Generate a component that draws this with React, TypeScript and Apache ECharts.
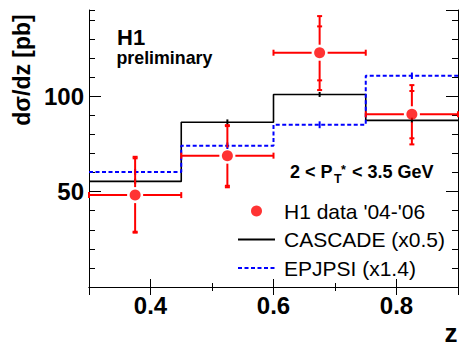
import React, { useEffect, useRef } from 'react';
import * as echarts from 'echarts';

// ---- data ----
const binEdges = [0.3, 0.45, 0.6, 0.75, 0.9];
const zCenters = [0.375, 0.525, 0.675, 0.825];
const h1Values = [48.2, 68.9, 122.9, 90.6];
const h1StatLow = [29.0, 53.1, 108.4, 78.0];
const h1StatHigh = [67.5, 84.4, 136.7, 102.8];
const h1TotLow = [28.5, 52.3, 103.3, 74.8];
const h1TotHigh = [68.3, 84.9, 142.1, 105.9];
const cascadeValues = [55.4, 86.4, 101.0, 87.4];
const cascadeErr = [1.4, 1.5, 1.3, 1.4];
const epjpsiValues = [60.3, 74.1, 85.1, 110.8];
const epjpsiErr = [1.6, 1.7, 1.8, 1.7];
const xTickLabels = ['0.4', '0.6', '0.8'];
const yTickLabels = ['50', '100'];
const seriesNames = ["H1 data '04-'06", 'CASCADE (x0.5)', 'EPJPSI (x1.4)'];

const FONT = "'Liberation Sans', Arial, Helvetica, sans-serif";

function stepData(values: number[]) {
  return binEdges.map((e, i) => [e, values[Math.min(i, values.length - 1)]]);
}

function modelErrData(values: number[], errs: number[]) {
  return zCenters.map((z, i) => [z, values[i] - errs[i], values[i] + errs[i]]);
}

function makeModelErrRender(color: string) {
  return (params: any, api: any) => {
    const lo = api.coord([api.value(0), api.value(1)]);
    const hi = api.coord([api.value(0), api.value(2)]);
    return {
      type: 'line',
      shape: { x1: lo[0], y1: lo[1], x2: hi[0], y2: hi[1] },
      style: { stroke: color, lineWidth: 2 },
    };
  };
}

const h1ErrData = zCenters.map((z, i) => [
  z,
  h1Values[i],
  binEdges[i],
  binEdges[i + 1],
  h1StatLow[i],
  h1StatHigh[i],
  h1TotLow[i],
  h1TotHigh[i],
]);

function h1ErrRender(params: any, api: any) {
  const x = api.value(0);
  const y = api.value(1);
  const c = api.coord([x, y]);
  const left = api.coord([api.value(2), y])[0];
  const right = api.coord([api.value(3), y])[0];
  const sLo = api.coord([x, api.value(4)])[1];
  const sHi = api.coord([x, api.value(5)])[1];
  const tLo = api.coord([x, api.value(6)])[1];
  const tHi = api.coord([x, api.value(7)])[1];
  const gap = 8;
  const capH = 3;
  const capV = 2.5;
  const st = { stroke: '#ff0000', lineWidth: 2 };
  const ln = (x1: number, y1: number, x2: number, y2: number) => ({
    type: 'line',
    shape: { x1, y1, x2, y2 },
    style: st,
  });
  return {
    type: 'group',
    children: [
      ln(c[0], c[1] - gap, c[0], tHi),
      ln(c[0], c[1] + gap, c[0], tLo),
      ln(left, c[1], c[0] - gap, c[1]),
      ln(c[0] + gap, c[1], right, c[1]),
      ln(left, c[1] - capH, left, c[1] + capH),
      ln(right, c[1] - capH, right, c[1] + capH),
      ln(c[0] - capV, sHi, c[0] + capV, sHi),
      ln(c[0] - capV, sLo, c[0] + capV, sLo),
      ln(c[0] - capV, tHi, c[0] + capV, tHi),
      ln(c[0] - capV, tLo, c[0] + capV, tLo),
    ],
  };
}

const fmt1 = (v: number) => String(Number(v.toFixed(1)));

export default function App() {
  const ref = useRef<HTMLDivElement>(null);

  useEffect(() => {
    if (!ref.current) return;
    const chart = echarts.init(ref.current, undefined, { renderer: 'svg' });

    const axisLine = { show: true, lineStyle: { color: '#000', width: 1 } };
    const noLine = { show: false };
    const tick = (len: number) => ({ show: true, inside: true, length: len, lineStyle: { color: '#000', width: 1 } });
    const xMajorBase = { type: 'value', min: 0.3, max: 0.9, splitNumber: 3, splitLine: { show: false } };
    const xMinorBase = { type: 'value', min: 0.3, max: 0.9, interval: 0.1, splitLine: { show: false }, axisLabel: { show: false } };
    const yMajorBase = { type: 'value', min: 0, max: 145.3, interval: 50, splitLine: { show: false } };
    const yMinorBase = { type: 'value', min: 0, max: 145.3, interval: 10, splitLine: { show: false }, axisLabel: { show: false } };

    const option: any = {
      animation: false,
      backgroundColor: '#ffffff',
      grid: { left: 89, top: 10, width: 369, height: 277 },
      xAxis: [
        {
          ...xMajorBase,
          position: 'bottom',
          axisLine,
          axisTick: tick(8),
          axisLabel: {
            show: true,
            margin: 6,
            fontSize: 24,
            fontWeight: 'bold',
            color: '#000',
            fontFamily: FONT,
            showMinLabel: false,
            showMaxLabel: false,
            formatter: (v: number) => (xTickLabels.includes(fmt1(v)) ? fmt1(v) : ''),
          },
        },
        { ...xMinorBase, position: 'bottom', axisLine: noLine, axisTick: tick(4) },
        { ...xMajorBase, position: 'top', axisLine, axisTick: tick(8), axisLabel: { show: false } },
        { ...xMinorBase, position: 'top', axisLine: noLine, axisTick: tick(4) },
      ],
      yAxis: [
        {
          ...yMajorBase,
          position: 'left',
          axisLine,
          axisTick: tick(12),
          axisLabel: {
            show: true,
            margin: 5,
            fontSize: 24,
            fontWeight: 'bold',
            color: '#000',
            fontFamily: FONT,
            padding: [7, 0, 0, 0],
            showMaxLabel: false,
            formatter: (v: number) => (yTickLabels.includes(String(v)) ? String(v) : ''),
          },
        },
        { ...yMinorBase, position: 'left', axisLine: noLine, axisTick: tick(6) },
        { ...yMajorBase, position: 'right', axisLine, axisTick: tick(12), axisLabel: { show: false } },
        { ...yMinorBase, position: 'right', axisLine: noLine, axisTick: tick(6) },
      ],
      legend: {
        orient: 'vertical',
        left: 237,
        top: 200.5,
        padding: 0,
        itemWidth: 37,
        itemHeight: 11,
        itemGap: 7.5,
        selectedMode: false,
        textStyle: { fontSize: 21, color: '#000', fontFamily: FONT, padding: [0, 0, 0, 4] },
        data: [
          { name: seriesNames[0], icon: 'circle' },
          { name: seriesNames[1], itemStyle: { opacity: 0 } },
          { name: seriesNames[2], itemStyle: { opacity: 0 } },
        ],
      },
      graphic: [
        {
          type: 'text', x: 117, y: 37.4, silent: true,
          style: { text: 'H1', fontSize: 22, fontWeight: 'bold', fontFamily: FONT, fill: '#000', align: 'left', verticalAlign: 'middle' },
        },
        {
          type: 'text', x: 116.5, y: 58.2, silent: true,
          style: { text: 'preliminary', fontSize: 17.8, fontWeight: 'bold', fontFamily: FONT, fill: '#000', align: 'left', verticalAlign: 'middle' },
        },
        {
          type: 'text', x: 290, y: 172.1, silent: true,
          style: { text: '2 < P', fontSize: 18, fontWeight: 'bold', fontFamily: FONT, fill: '#000', align: 'left', verticalAlign: 'middle' },
        },
        {
          type: 'text', x: 334, y: 178.7, silent: true,
          style: { text: 'T', fontSize: 12.5, fontWeight: 'bold', fontFamily: FONT, fill: '#000', align: 'left', verticalAlign: 'middle' },
        },
        {
          type: 'text', x: 341, y: 170.4, silent: true,
          style: { text: '*', fontSize: 12.5, fontWeight: 'bold', fontFamily: FONT, fill: '#000', align: 'left', verticalAlign: 'middle' },
        },
        {
          type: 'text', x: 347, y: 172.1, silent: true,
          style: { text: ' < 3.5 GeV', fontSize: 18, fontWeight: 'bold', fontFamily: FONT, fill: '#000', align: 'left', verticalAlign: 'middle' },
        },
        {
          type: 'text', x: 451, y: 333, silent: true,
          style: { text: 'z', fontSize: 26, fontWeight: 'bold', fontFamily: FONT, fill: '#000', align: 'center', verticalAlign: 'middle' },
        },
        {
          type: 'text', x: 22, y: 70, rotation: Math.PI / 2, silent: true,
          style: { text: 'dσ/dz [pb]', fontSize: 23, fontWeight: 'bold', fontFamily: FONT, fill: '#000', align: 'center', verticalAlign: 'middle' },
        },
      ],
      series: [
        {
          name: seriesNames[1],
          type: 'line',
          step: 'end',
          data: stepData(cascadeValues),
          symbol: 'none',
          color: '#000000',
          lineStyle: { color: '#000000', width: 1.6 },
          silent: true,
          z: 2,
        },
        {
          name: seriesNames[2],
          type: 'line',
          step: 'end',
          data: stepData(epjpsiValues),
          symbol: 'none',
          color: '#0000ff',
          lineStyle: { color: '#0000ff', width: 2, type: [4, 2.5] },
          silent: true,
          z: 3,
        },
        {
          type: 'custom',
          data: modelErrData(cascadeValues, cascadeErr),
          renderItem: makeModelErrRender('#000000'),
          silent: true,
          z: 4,
        },
        {
          type: 'custom',
          data: modelErrData(epjpsiValues, epjpsiErr),
          renderItem: makeModelErrRender('#0000ff'),
          silent: true,
          z: 4,
        },
        {
          type: 'custom',
          data: h1ErrData,
          renderItem: h1ErrRender,
          silent: true,
          clip: false,
          z: 5,
        },
        {
          name: seriesNames[0],
          type: 'scatter',
          data: zCenters.map((z, i) => [z, h1Values[i]]),
          symbol: 'circle',
          symbolSize: 11,
          color: '#ff0000',
          itemStyle: { color: '#ff0000' },
          silent: true,
          z: 6,
        },
      ],
    };

    chart.setOption(option);
    return () => chart.dispose();
  }, []);

  return (
    <div
      ref={ref}
      style={{ position: 'fixed', left: 0, top: 0, width: 469, height: 353, background: '#fff' }}
    />
  );
}
